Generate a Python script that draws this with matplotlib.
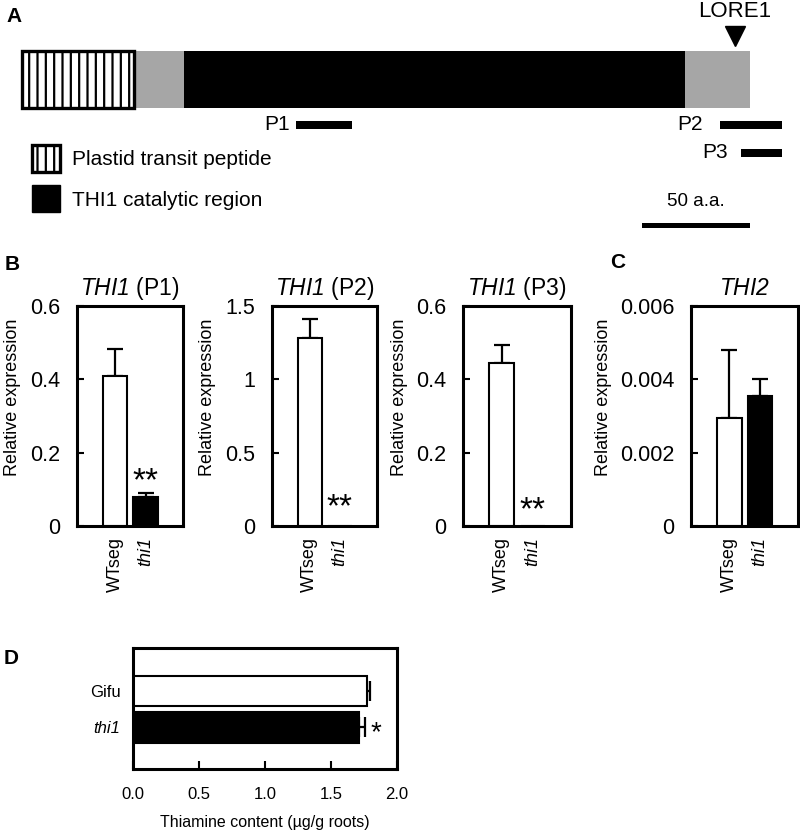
import matplotlib
matplotlib.use("Agg")
import matplotlib.pyplot as plt
import numpy as np
from matplotlib.patches import Patch
from matplotlib.ticker import FuncFormatter
import matplotlib.transforms as mtrans

plt.rcParams['font.family'] = ['Liberation Sans', 'DejaVu Sans']
plt.rcParams['mathtext.fontset'] = 'custom'
# the math "rm" slot is used for the italic gene names (so that digits are italic too)
plt.rcParams['mathtext.rm'] = 'Liberation Sans:italic'
plt.rcParams['mathtext.it'] = 'Liberation Sans:italic'
plt.rcParams['hatch.linewidth'] = 1.6

# ---------------- data ----------------
# Panel A: THI1 protein schematic (amino acids)
domain_start = [0, 52, 75, 307]
domain_end = [52, 75, 307, 337]
domain_kind = ['transit', 'linker', 'catalytic', 'linker']
lore1_site = 330
probe_names = ['P1', 'P2', 'P3']
probe_start = [127, 323, 333]
probe_end = [153, 352, 352]
scale_bar_aa = 50
legend_labels = ['Plastid transit peptide', 'THI1 catalytic region']

# Panels B, C: relative expression
samples = ['WTseg', 'thi1']
p1_mean = [0.41, 0.08]
p1_err = [0.072, 0.009]
p2_mean = [1.28, 0.0]
p2_err = [0.13, 0.0]
p3_mean = [0.445, 0.0]
p3_err = [0.048, 0.0]
thi2_mean = [0.00295, 0.00355]
thi2_err = [0.00184, 0.00047]
panel_titles = [r'$\mathrm{THI1}$ (P1)', r'$\mathrm{THI1}$ (P2)',
                r'$\mathrm{THI1}$ (P3)', r'$\mathrm{THI2}$']
y_max = [0.6, 1.5, 0.6, 0.006]
y_step = [0.2, 0.5, 0.2, 0.002]
signif = ['**', '**', '**', '']

# Panel D: thiamine content
genotypes = ['Gifu', 'thi1']
thiamine = [1.775, 1.712]
thiamine_err = [0.02, 0.045]
thiamine_signif = ['', '*']
d_ticks = [0.0, 0.5, 1.0, 1.5, 2.0]

# ---------------- figure ----------------
W, H = 800, 835
fig = plt.figure(figsize=(W / 100, H / 100), dpi=100)


def px_axes(l, t, r, b):
    return fig.add_axes([l / W, 1 - b / H, (r - l) / W, (b - t) / H])


# ---------- Panel A ----------
axA = px_axes(0, 0, W, 240)
px_per_aa = 2.16
axA.set_xlim(-22 / px_per_aa, (W - 22) / px_per_aa)
axA.set_ylim(240, 0)
axA.axis('off')

kind_style = {
    'transit': dict(facecolor='white', edgecolor='black', hatch='||', linewidth=2.4),
    'linker': dict(facecolor='#a6a6a6', edgecolor='none', linewidth=0),
    'catalytic': dict(facecolor='black', edgecolor='none', linewidth=0),
}
starts = np.array(domain_start)
lengths = np.array(domain_end) - starts
for s, ln, k in zip(starts, lengths, domain_kind):
    z = 3 if k == 'transit' else 2
    axA.barh(79, ln, left=s, height=57, zorder=z, **kind_style[k])

axA.plot([lore1_site], [36], marker='v', ms=15, color='black', linestyle='none')
axA.annotate('LORE1', xy=(lore1_site, 25), xytext=(0, 2), textcoords='offset points',
             ha='center', va='bottom', fontsize=16)

probe_rows = [125, 125, 153]
probe_gap = [-5, -12, -10]
for name, ps, pe, yr, g in zip(probe_names, probe_start, probe_end, probe_rows, probe_gap):
    axA.barh(yr, pe - ps, left=ps, height=8, color='black')
    axA.annotate(name, xy=(ps, yr), xytext=(g, 0), textcoords='offset points',
                 ha='right', va='center', fontsize=15)

sb_left = domain_end[-1] - scale_bar_aa
axA.barh(225.5, scale_bar_aa, left=sb_left, height=5, color='black')
axA.text(sb_left + scale_bar_aa / 2, 202, f'{scale_bar_aa} a.a.', ha='center',
         va='center', fontsize=13.5)

handles = [Patch(facecolor='white', edgecolor='black', hatch='||', linewidth=2.4),
           Patch(facecolor='black', edgecolor='black')]
axA.legend(handles, legend_labels, loc='upper left',
           bbox_to_anchor=(32 / W, 1 - 145 / 240), frameon=False, fontsize=15,
           borderpad=0, borderaxespad=0, handlelength=1.35, handleheight=1.6,
           handletextpad=0.55, labelspacing=0.65)

# ---------- Panels B & C ----------
panel_px = [(77, 306, 183, 526), (272, 306, 377, 526),
            (463, 306, 571, 526), (691, 306, 798, 526)]
ylabel_right = [21, 216, 408, 612]
star_px = [482, 508, 511]
means = [p1_mean, p2_mean, p3_mean, thi2_mean]
errs = [p1_err, p2_err, p3_err, thi2_err]
x = np.arange(len(samples))
fmt = FuncFormatter(lambda v, p: f'{v:g}')
for i, (box, m, e) in enumerate(zip(panel_px, means, errs)):
    ax = px_axes(*box)
    ax.bar(x, m, width=0.79, color=['white', 'black'], edgecolor='black',
           linewidth=1.5, zorder=2)
    e = np.array(e)
    mask = e > 0
    ax.errorbar(x[mask], np.array(m)[mask], yerr=[np.zeros(mask.sum()), e[mask]],
                fmt='none', ecolor='black', elinewidth=1.6, capsize=5.5,
                capthick=1.6, zorder=1)
    ax.set_xlim(-1.246, 2.229)
    ax.set_ylim(0, y_max[i])
    ax.set_yticks(np.arange(0, y_max[i] + y_step[i] / 2, y_step[i]))
    ax.yaxis.set_major_formatter(fmt)
    ax.set_xticks(x)
    ax.set_xticklabels(samples, rotation=90, fontsize=13)
    ax.get_xticklabels()[1].set_fontstyle('italic')
    ax.tick_params(axis='x', length=0, pad=8)
    ax.tick_params(axis='y', direction='in', length=5, width=1.5,
                   labelsize=15.5, pad=12)
    for sp in ax.spines.values():
        sp.set_linewidth(2.2)
    ax.set_title(panel_titles[i], fontsize=16.5, pad=8)
    ax.set_ylabel('Relative expression', fontsize=13)
    ax.yaxis.set_label_coords((ylabel_right[i] - box[0]) / (box[2] - box[0]),
                              (526 - 397) / 220)
    if signif[i]:
        tr = mtrans.blended_transform_factory(ax.transData, ax.transAxes)
        ax.text(x[1], (526 - star_px[i]) / 220, signif[i], transform=tr,
                ha='center', va='center', fontsize=24)

# ---------- Panel D ----------
axD = px_axes(133, 648, 397, 769)
yD = np.array([1, 0])
axD.barh(yD, thiamine, height=0.83, color=['white', 'black'], edgecolor='black',
         linewidth=1.5, zorder=2)
axD.errorbar(thiamine, yD, xerr=[np.zeros(2), thiamine_err], fmt='none',
             ecolor='black', elinewidth=1.6, capsize=7, capthick=1.6, zorder=1)
for yy, v, ee, s in zip(yD, thiamine, thiamine_err, thiamine_signif):
    if s:
        axD.annotate(s, xy=(v + ee, yy), xytext=(8, -4), textcoords='offset points',
                     ha='center', va='center', fontsize=20)
axD.set_xlim(0, 2.0)
axD.set_ylim(-1.137, 2.178)
axD.set_xticks(d_ticks)
axD.xaxis.set_major_formatter(FuncFormatter(lambda v, p: f'{v:.1f}'))
axD.set_yticks(yD)
axD.set_yticklabels(genotypes)
axD.get_yticklabels()[1].set_fontstyle('italic')
for lab in axD.get_xticklabels() + axD.get_yticklabels():
    lab.set_fontsize(12)
axD.tick_params(axis='x', direction='in', length=6, width=1.5, pad=13)
axD.tick_params(axis='y', length=0, pad=9)
for sp in axD.spines.values():
    sp.set_linewidth(2.2)
axD.set_xlabel('Thiamine content (µg/g roots)', fontsize=11.5, labelpad=9)

# ---------- panel letters ----------
for lab, (lx, ly) in zip(['A', 'B', 'C', 'D'],
                         [(14, 16), (12.5, 265), (618, 263), (11, 659)]):
    fig.text(lx / W, 1 - ly / H, lab, ha='center', va='center', fontsize=15,
             fontweight='bold')

fig.savefig('out.png', dpi=100)
